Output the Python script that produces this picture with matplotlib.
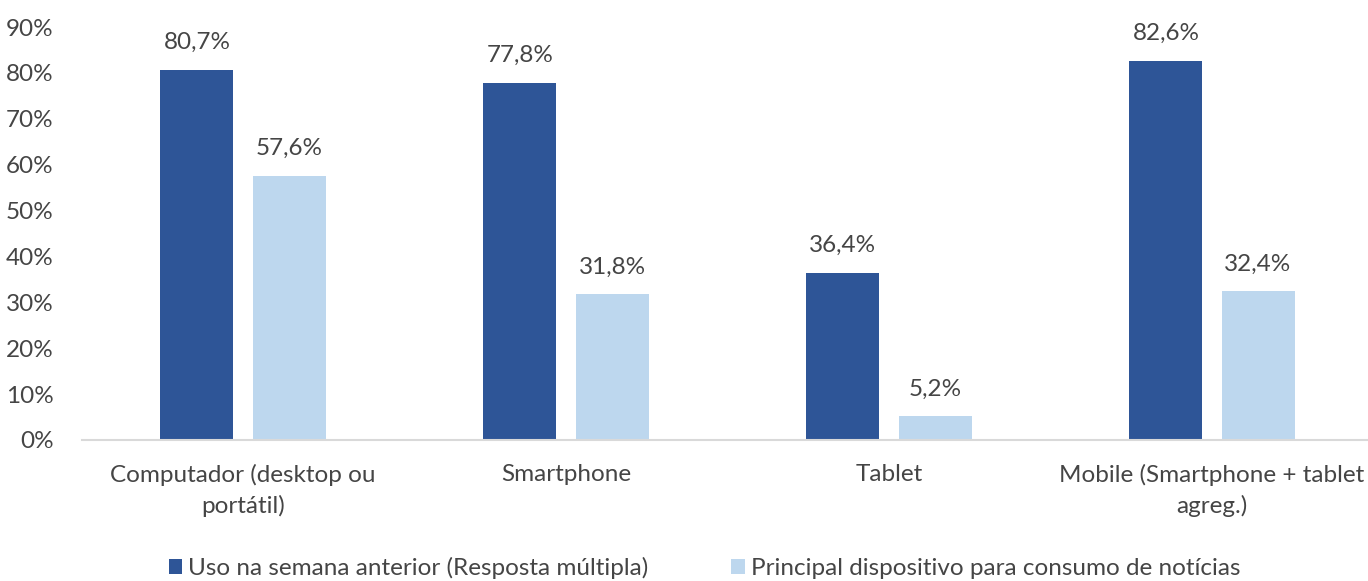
import matplotlib.pyplot as plt
import numpy as np
from matplotlib.ticker import FuncFormatter

plt.rcParams["font.family"] = ["Lato", "DejaVu Sans"]

categories = ["Computador (desktop ou\nportátil)", "Smartphone", "Tablet",
              "Mobile (Smartphone + tablet\nagreg.)"]
uso_semana = [80.7, 77.8, 36.4, 82.6]
principal = [57.6, 31.8, 5.2, 32.4]
series_names = ["Uso na semana anterior (Resposta múltipla)",
                "Principal dispositivo para consumo de notícias"]

dark = "#2E5597"
light = "#BDD7EE"
text_col = "#454545"
fs = 17.5

fig = plt.figure(figsize=(13.68, 5.81), dpi=100)
ax = fig.add_axes([81.5 / 1368, 1 - 440 / 581, 1292 / 1368, 413 / 581])

x = np.arange(len(categories))
w = 0.226
off = 0.1425
b1 = ax.bar(x - off, uso_semana, w, color=dark, label=series_names[0])
b2 = ax.bar(x + off, principal, w, color=light, label=series_names[1])

# value labels above each bar, decimal comma
for bars, vals in ((b1, uso_semana), (b2, principal)):
    for r, v in zip(bars, vals):
        ax.annotate(f"{v:.1f}%".replace(".", ","),
                    (r.get_x() + r.get_width() / 2, v),
                    xytext=(0, 12), textcoords="offset points",
                    ha="center", va="bottom", fontsize=fs, color=text_col)

ax.set_xlim(-0.5, len(categories) - 0.5)
ax.set_ylim(0, 90)
ax.set_yticks(range(0, 91, 10))
ax.yaxis.set_major_formatter(FuncFormatter(lambda v, p: f"{v:.0f}%"))
ax.set_xticks(x)
ax.set_xticklabels(categories, linespacing=1.5)
ax.tick_params(axis="both", length=0, labelsize=fs, labelcolor=text_col)
ax.tick_params(axis="x", pad=17)
ax.tick_params(axis="y", pad=20)

for s in ("top", "right", "left"):
    ax.spines[s].set_visible(False)
ax.spines["bottom"].set_color("#D9D9D9")
ax.spines["bottom"].set_linewidth(1.5)

fig.legend(loc="center", bbox_to_anchor=(0.515, 1 - 568 / 581), ncol=2,
           frameon=False, fontsize=fs, handlelength=0.55, handleheight=0.55,
           handletextpad=0.25, columnspacing=3.4, labelcolor=text_col)

fig.savefig("out.png", dpi=100)
